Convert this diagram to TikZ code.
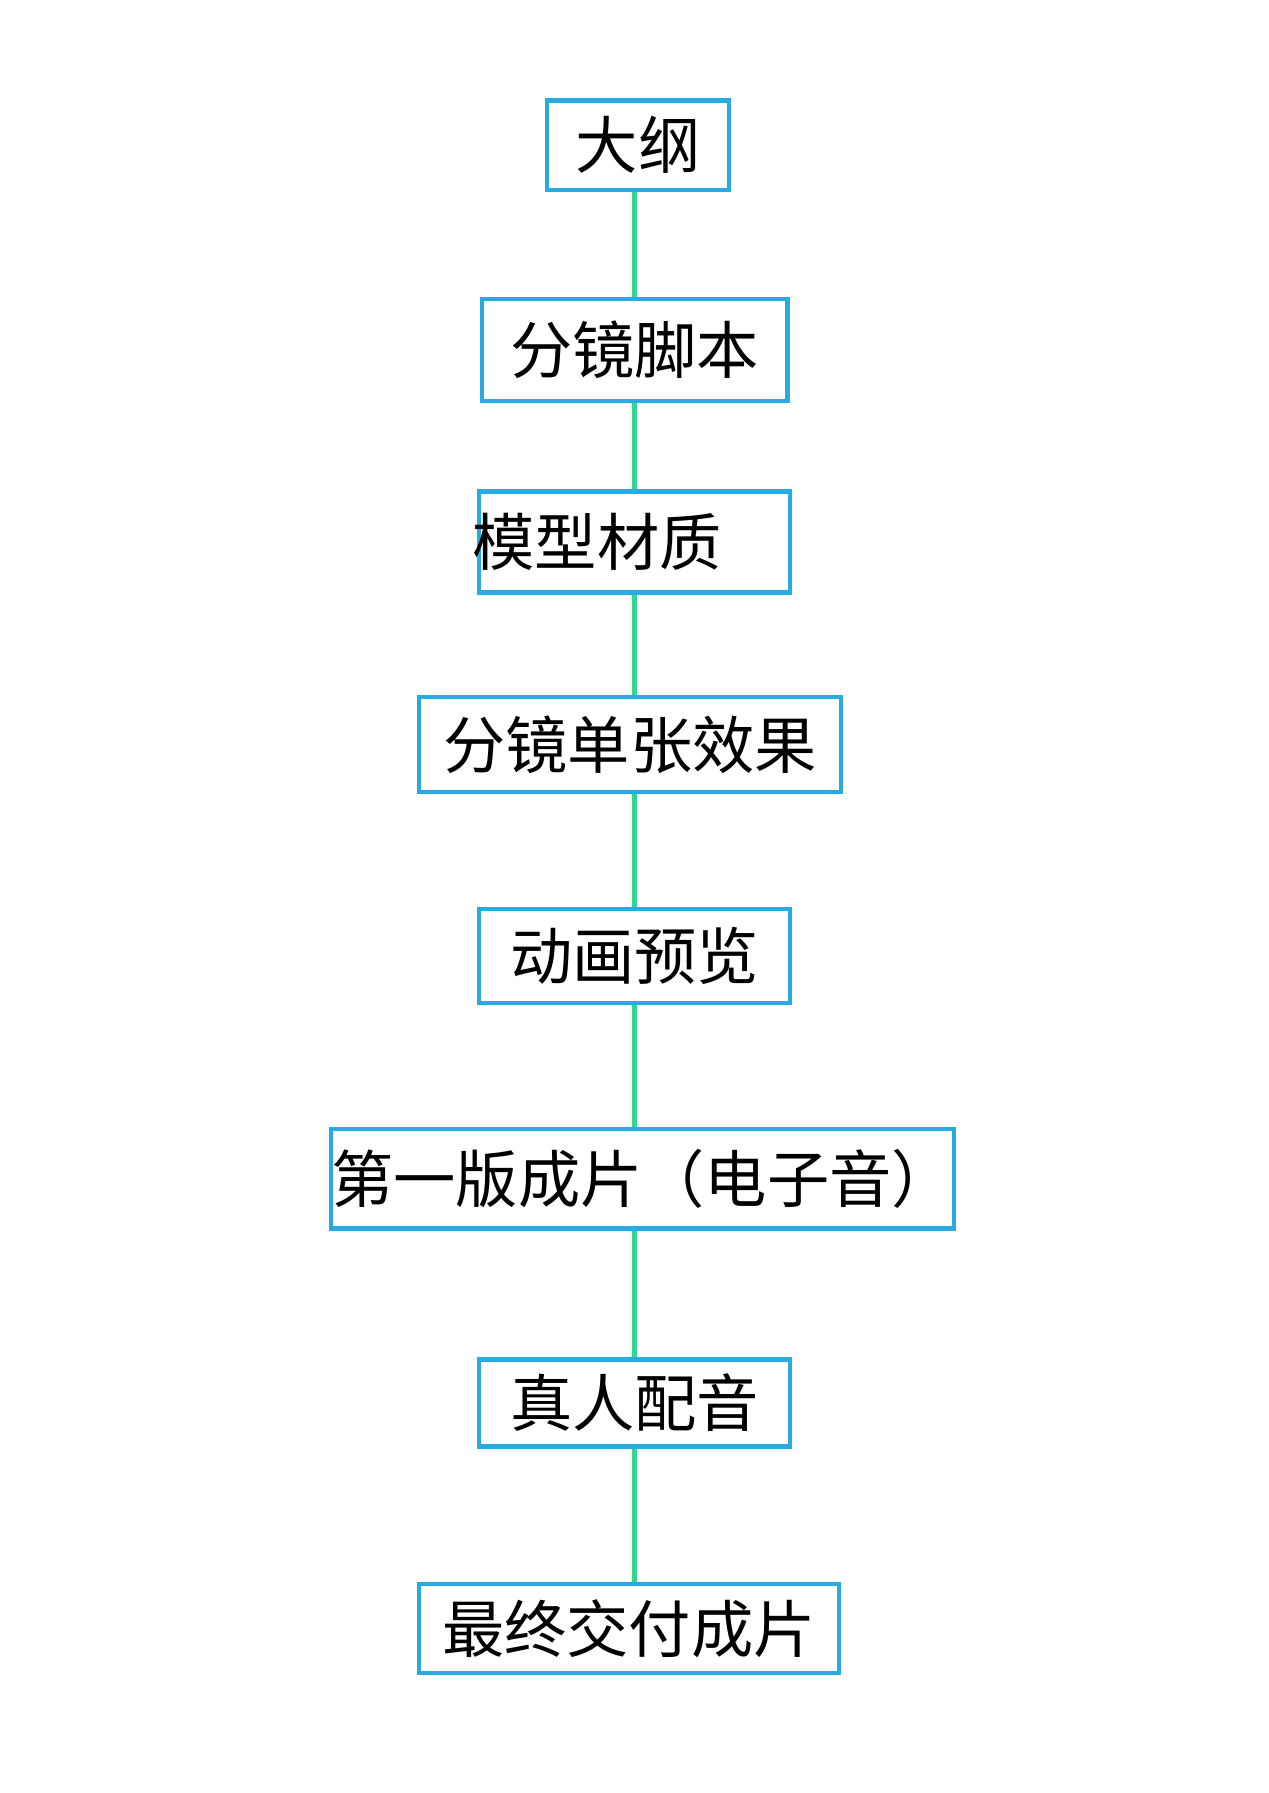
\documentclass[tikz,border=0pt]{standalone}
\usepackage{fontspec}
\newfontfamily\cjk{Noto Sans CJK SC}
\usetikzlibrary{positioning}
\definecolor{boxblue}{HTML}{29ABE2}
\definecolor{linkgreen}{HTML}{2ED98F}

\begin{document}
\begin{tikzpicture}[x=0.02cm,y=-0.02cm]
                        \tikzset{stage/.style={draw=boxblue,line width=2.2pt,inner sep=0pt,
                            font=\cjk\fontsize{31}{36}\selectfont,text=black,align=center}}
                        \tikzset{link/.style={draw=linkgreen,line width=2.2pt}}
                        \useasboundingbox (0,0) rectangle (1109,1568);
                        % stages of the workflow
                        \node[stage,minimum width=159*0.02cm,minimum height=78*0.02cm] (outline) at (558,127) {大纲};
                        \node[stage,minimum width=267*0.02cm,minimum height=89*0.02cm] (board) at (555,306) {分镜脚本};
                        \node[stage,minimum width=272*0.02cm,minimum height=88*0.02cm] (model) at (555,474) {\hspace*{-1.2em}模型材质};
                        \node[stage,minimum width=369*0.02cm,minimum height=83*0.02cm] (frame) at (551,651) {分镜单张效果};
                        \node[stage,minimum width=272*0.02cm,minimum height=82*0.02cm] (preview) at (555,836) {动画预览};
                        \node[stage,minimum width=539*0.02cm,minimum height=87*0.02cm] (first) at (562,1031) {第一版成片（电子音）};
                        \node[stage,minimum width=272*0.02cm,minimum height=76*0.02cm] (voice) at (555,1227) {真人配音};
                        \node[stage,minimum width=367*0.02cm,minimum height=78*0.02cm] (final) at (550,1424) {最终交付成片};
                        \coordinate (spine) at (555,0);
                        % connectors
                        \foreach \a/\b in {outline/board,board/model,model/frame,frame/preview,
                                           preview/first,first/voice,voice/final}
                            \draw[link] (\a.south -| spine) -- (\b.north -| spine);
                    \end{tikzpicture}
\end{document}
